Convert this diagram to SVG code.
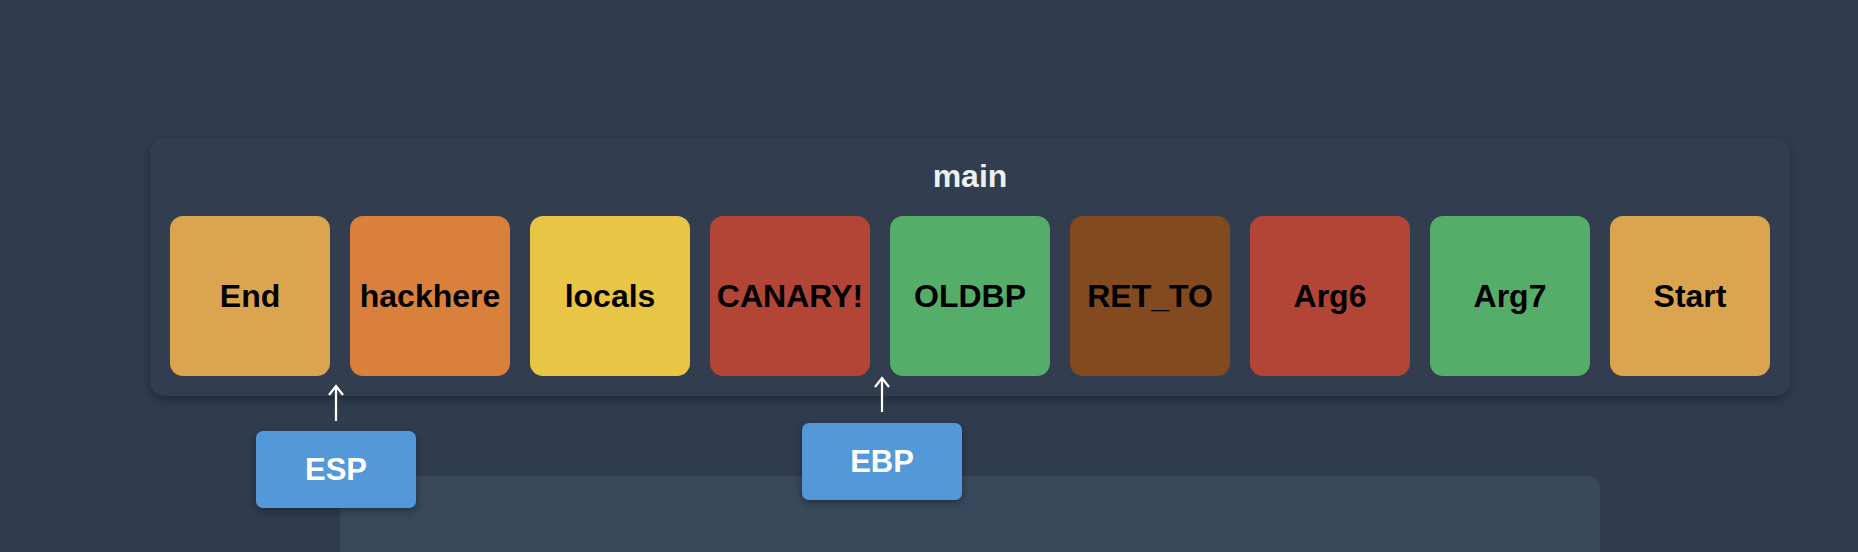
<svg xmlns="http://www.w3.org/2000/svg" width="1858" height="552" viewBox="0 0 1858 552">
  <defs>
    <filter id="shadow" x="-10%" y="-20%" width="120%" height="150%">
      <feDropShadow dx="0" dy="4" stdDeviation="5" flood-color="#000000" flood-opacity="0.3"/>
    </filter>
    <filter id="shadowSm" x="-20%" y="-30%" width="140%" height="170%">
      <feDropShadow dx="0" dy="3" stdDeviation="4" flood-color="#000000" flood-opacity="0.35"/>
    </filter>
    <marker id="head" viewBox="0 0 12 16" refX="10" refY="8" markerWidth="12" markerHeight="16" markerUnits="userSpaceOnUse" orient="auto">
      <path d="M1,1 L10,8 L1,15" fill="none" stroke="#ffffff" stroke-width="2.2" stroke-linejoin="miter"/>
    </marker>
    <style>
      .cell { stroke: none; }
      .lbl { font-family: "Liberation Sans", Arial, Helvetica, sans-serif; font-weight: bold; font-size: 32px; fill: #000000; text-anchor: middle; }
      .title { font-family: "Liberation Sans", Arial, Helvetica, sans-serif; font-weight: bold; font-size: 32px; fill: #ecf0f1; text-anchor: middle; }
      .reg { fill: #5398d8; }
      .regtxt { font-family: "Liberation Sans", Arial, Helvetica, sans-serif; font-weight: bold; font-size: 31px; fill: #ffffff; text-anchor: middle; }
      .ptr { stroke: #ffffff; stroke-width: 2.2; fill: none; }
    </style>
  </defs>

  <rect x="0" y="0" width="1858" height="552" fill="#2f3c4e"/>

  <!-- lower panel (partially visible) -->
  <g id="lower-panel">
    <rect x="340" y="476" width="1260" height="120" rx="13" fill="#37495b"/>
    <text x="371" y="571" font-family="Liberation Sans, Arial, sans-serif" font-weight="bold" font-size="28" fill="#ecf0f1">M</text>
  </g>

  <!-- main frame -->
  <g id="main">
    <rect x="150" y="138" width="1640" height="258" rx="15" fill="#323e50" filter="url(#shadow)"/>
    <text class="title" x="970" y="187">main</text>
  </g>

  <g id="cell-end">
    <rect class="cell" x="170" y="216" width="160" height="160" rx="13" fill="#dba44f"/>
    <text class="lbl" x="250" y="307">End</text>
  </g>
  <g id="cell-hackhere">
    <rect class="cell" x="350" y="216" width="160" height="160" rx="13" fill="#d9803c"/>
    <text class="lbl" x="430" y="307">hackhere</text>
  </g>
  <g id="cell-locals">
    <rect class="cell" x="530" y="216" width="160" height="160" rx="13" fill="#e8c545"/>
    <text class="lbl" x="610" y="307">locals</text>
  </g>
  <g id="cell-canary">
    <rect class="cell" x="710" y="216" width="160" height="160" rx="13" fill="#b24536"/>
    <text class="lbl" x="790" y="307">CANARY!</text>
  </g>
  <g id="cell-oldbp">
    <rect class="cell" x="890" y="216" width="160" height="160" rx="13" fill="#55ad6a"/>
    <text class="lbl" x="970" y="307">OLDBP</text>
  </g>
  <g id="cell-ret-to">
    <rect class="cell" x="1070" y="216" width="160" height="160" rx="13" fill="#83491f"/>
    <text class="lbl" x="1150" y="307">RET_TO</text>
  </g>
  <g id="cell-arg6">
    <rect class="cell" x="1250" y="216" width="160" height="160" rx="13" fill="#b24536"/>
    <text class="lbl" x="1330" y="307">Arg6</text>
  </g>
  <g id="cell-arg7">
    <rect class="cell" x="1430" y="216" width="160" height="160" rx="13" fill="#55ad6a"/>
    <text class="lbl" x="1510" y="307">Arg7</text>
  </g>
  <g id="cell-start">
    <rect class="cell" x="1610" y="216" width="160" height="160" rx="13" fill="#dba44f"/>
    <text class="lbl" x="1690" y="307">Start</text>
  </g>

  <!-- connectors -->
  <g id="connectors">
    <line class="ptr" x1="336" y1="421" x2="336" y2="386" marker-end="url(#head)"/>
    <line class="ptr" x1="882" y1="412" x2="882" y2="378" marker-end="url(#head)"/>
  </g>

  <g id="reg-esp">
    <rect class="reg" x="256" y="431" width="160" height="77" rx="7" filter="url(#shadowSm)"/>
    <text class="regtxt" x="336" y="480">ESP</text>
  </g>
  <g id="reg-ebp">
    <rect class="reg" x="802" y="423" width="160" height="77" rx="7" filter="url(#shadowSm)"/>
    <text class="regtxt" x="882" y="472">EBP</text>
  </g>
</svg>
